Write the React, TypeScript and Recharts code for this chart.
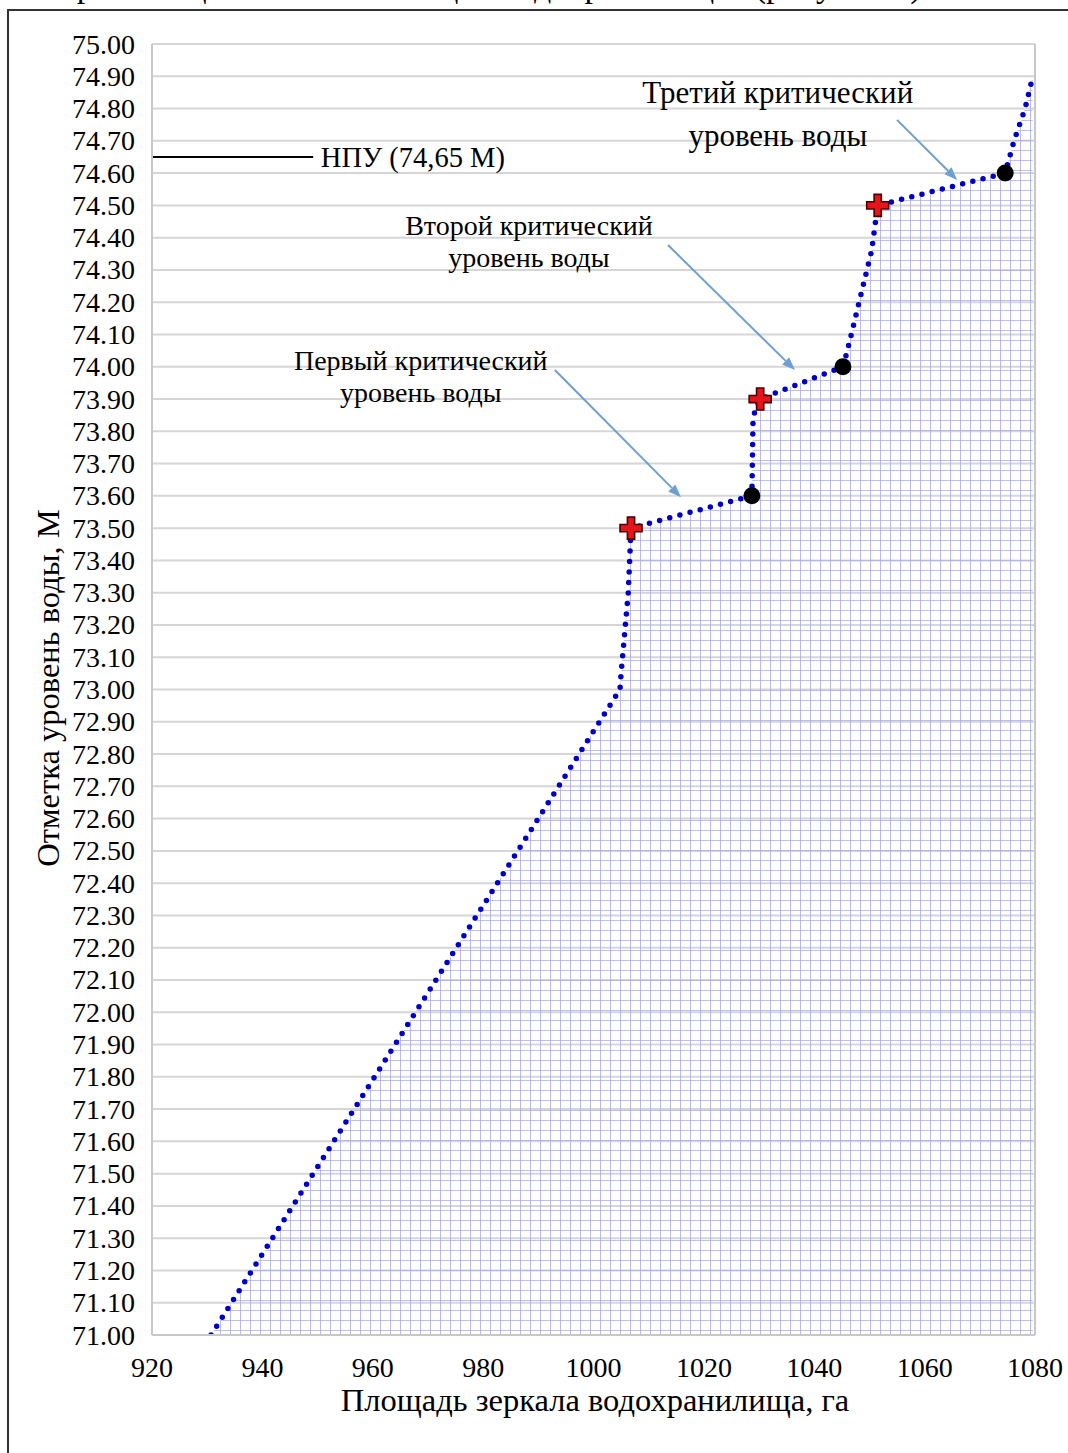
import React from 'react';
import {
  ComposedChart,
  Area,
  Scatter,
  XAxis,
  YAxis,
  CartesianGrid,
  ReferenceLine,
  ReferenceDot,
} from 'recharts';

const FONT = '"Liberation Serif", "Times New Roman", serif';

// curve of water surface area vs level
const curveArea = [930.7, 1004.8, 1005.0, 1006.3, 1006.8, 1028.7, 1028.9, 1029.3, 1030.2, 1045.2, 1046.0, 1050.4, 1051.5, 1074.6, 1076.2, 1078.2, 1079.6];
const curveLevel = [71.0, 73.0, 73.05, 73.3, 73.5, 73.6, 73.83, 73.87, 73.9, 74.0, 74.05, 74.36, 74.5, 74.6, 74.7, 74.8, 74.9];

// red crosses and black dots
const crossArea = [1006.8, 1030.2, 1051.5];
const crossLevel = [73.5, 73.9, 74.5];
const dotArea = [1028.7, 1045.2, 1074.6];
const dotLevel = [73.6, 74.0, 74.6];

const xTicks = [920, 940, 960, 980, 1000, 1020, 1040, 1060, 1080];
const xTopTicks = [936, 952, 968, 984, 1000, 1016, 1032, 1048, 1064];
const yTicks = [
  71.0, 71.1, 71.2, 71.3, 71.4, 71.5, 71.6, 71.7, 71.8, 71.9,
  72.0, 72.1, 72.2, 72.3, 72.4, 72.5, 72.6, 72.7, 72.8, 72.9,
  73.0, 73.1, 73.2, 73.3, 73.4, 73.5, 73.6, 73.7, 73.8, 73.9,
  74.0, 74.1, 74.2, 74.3, 74.4, 74.5, 74.6, 74.7, 74.8, 74.9, 75.0,
];
const yMinorTicks = [
  71.05, 71.15, 71.25, 71.35, 71.45, 71.55, 71.65, 71.75, 71.85, 71.95,
  72.05, 72.15, 72.25, 72.35, 72.45, 72.55, 72.65, 72.75, 72.85, 72.95,
  73.05, 73.15, 73.25, 73.35, 73.45, 73.55, 73.65, 73.75, 73.85, 73.95,
  74.05, 74.15, 74.25, 74.35, 74.45, 74.55, 74.65, 74.75, 74.85, 74.95,
];

// annotations: text lines, anchor point, font size, line gap
const labelTexts = [
  ['Третий критический', 'уровень воды'],
  ['Второй критический', 'уровень воды'],
  ['Первый критический', 'уровень воды'],
];
const labelX = [1033.4, 988.3, 968.7];
const labelY = [74.85, 74.44, 74.02];
const labelSize = [31, 28, 28];
const labelGap = [43, 32, 32];

// arrows: start -> end
const arrowFrom = [
  { x: 1055.0, y: 74.765 },
  { x: 1013.5, y: 74.377 },
  { x: 993.0, y: 73.99 },
];
const arrowTo = [
  { x: 1065.9, y: 74.579 },
  { x: 1036.5, y: 73.99 },
  { x: 1015.85, y: 73.596 },
];

const npuLevel = 74.65;
const npuLineEnd = 949.2;
const npuText = 'НПУ (74,65 М)';

const curveData = curveArea.map((x, i) => ({ x, y: curveLevel[i] }));
const crossData = crossArea.map((x, i) => ({ x, y: crossLevel[i] }));
const dotData = dotArea.map((x, i) => ({ x, y: dotLevel[i] }));

const Cross = (props: any) => {
  const { cx, cy } = props;
  const a = 11;
  const t = 3.6;
  const d = `M${cx - t},${cy - a} H${cx + t} V${cy - t} H${cx + a} V${cy + t} H${cx + t} V${cy + a} H${cx - t} V${cy + t} H${cx - a} V${cy - t} H${cx - t} Z`;
  return <path d={d} fill="#e8141c" stroke="#4a0000" strokeWidth={1.6} />;
};

const BlackDot = (props: any) => {
  const { cx, cy } = props;
  return <circle cx={cx} cy={cy} r={8.5} fill="#000" />;
};

const Arrow = (props: any) => {
  const { x1, y1, x2, y2 } = props;
  const ang = Math.atan2(y2 - y1, x2 - x1);
  const len = 13;
  const w = 5;
  const bx = x2 - len * Math.cos(ang);
  const by = y2 - len * Math.sin(ang);
  const px = -Math.sin(ang) * w;
  const py = Math.cos(ang) * w;
  return (
    <g>
      <line x1={x1} y1={y1} x2={bx} y2={by} stroke="#6e9fd0" strokeWidth={2} />
      <polygon points={`${x2},${y2} ${bx + px},${by + py} ${bx - px},${by - py}`} fill="#6e9fd0" />
    </g>
  );
};

const makeLabel = (i: number) => (props: any) => {
  const { cx, cy } = props;
  return (
    <text x={cx} y={cy} textAnchor="middle" fontFamily={FONT} fontSize={labelSize[i]} fill="#000">
      {labelTexts[i].map((t, k) => (
        <tspan key={k} x={cx} dy={k === 0 ? '0.35em' : labelGap[i]}>
          {t}
        </tspan>
      ))}
    </text>
  );
};

const NpuText = (props: any) => {
  const { cx, cy } = props;
  return (
    <text x={cx} y={cy} dy="0.35em" fontFamily={FONT} fontSize={28.5} fill="#000">
      {npuText}
    </text>
  );
};

const XTick = (props: any) => {
  const { x, y, payload } = props;
  return (
    <text x={x} y={y} dy={20} textAnchor="middle" fontFamily={FONT} fontSize={28} fill="#000">
      {payload.value}
    </text>
  );
};

const YTick = (props: any) => {
  const { x, y, payload } = props;
  return (
    <text x={x} y={y} dy={9.5} textAnchor="end" fontFamily={FONT} fontSize={28} fill="#000">
      {Number(payload.value).toFixed(2)}
    </text>
  );
};

const Empty = () => <g />;

export default function App() {
  return (
    <div style={{ position: 'absolute', left: 0, top: 0, width: 1068, height: 1453, overflow: 'hidden', background: '#fff', fontFamily: FONT }}>
      <div style={{ position: 'absolute', right: 138, top: -31, fontSize: 34, lineHeight: 1, whiteSpace: 'nowrap', color: '#000' }}>
        ранилище и в вышележащих водохранилищах (рисунок 4).
      </div>
      <div style={{ position: 'absolute', left: 7, top: 9, width: 1100, height: 1500, borderLeft: '2px solid #333', borderTop: '2px solid #333' }} />
      <div style={{ position: 'absolute', left: 0, top: 0 }}>
        <ComposedChart width={1068} height={1453} margin={{ top: 44, right: 33, bottom: 0, left: 0 }} style={{ fontFamily: FONT }}>
          <defs>
            <pattern id="cells" width="10" height="10" patternUnits="userSpaceOnUse">
              <path d="M10 0 L0 0 0 10" fill="none" stroke="#a9a9ee" strokeWidth={1.6} />
            </pattern>
          </defs>
          <CartesianGrid vertical={false} stroke="#d6d6d6" strokeWidth={2} />
          <XAxis
            dataKey="x"
            type="number"
            domain={[920, 1080]}
            ticks={xTicks}
            height={118}
            tickSize={0}
            tickMargin={22}
            tickLine={false}
            axisLine={{ stroke: '#c8c8c8', strokeWidth: 2 }}
            tick={XTick}
            allowDataOverflow
          />
          <XAxis
            xAxisId="top"
            orientation="top"
            type="number"
            domain={[920, 1080]}
            ticks={xTopTicks}
            height={0}
            mirror
            tickSize={14}
            tickLine={{ stroke: '#c8c8c8', strokeWidth: 1.5 }}
            axisLine={{ stroke: '#c8c8c8', strokeWidth: 2 }}
            tick={Empty}
          />
          <YAxis
            type="number"
            domain={[71, 75]}
            ticks={yTicks}
            width={152}
            tickSize={0}
            tickMargin={17}
            tickLine={false}
            interval={0}
            axisLine={{ stroke: '#c8c8c8', strokeWidth: 2 }}
            tick={YTick}
            allowDataOverflow
          />
          <YAxis
            yAxisId="minor"
            type="number"
            domain={[71, 75]}
            ticks={yMinorTicks}
            width={0}
            mirror
            tickSize={7}
            interval={0}
            axisLine={false}
            tickLine={{ stroke: '#c8c8c8', strokeWidth: 1.5 }}
            tick={Empty}
          />
          <ReferenceLine x={1080} stroke="#c8c8c8" strokeWidth={2} />
          <Area
            data={curveData}
            dataKey="y"
            type="linear"
            fill="url(#cells)"
            fillOpacity={1}
            stroke="#0000c4"
            strokeWidth={5.5}
            strokeDasharray="0 10.5"
            strokeLinecap="round"
            isAnimationActive={false}
          />
          <ReferenceLine
            segment={[{ x: 920, y: npuLevel }, { x: npuLineEnd, y: npuLevel }]}
            stroke="#000"
            strokeWidth={2}
          />
          <ReferenceDot x={npuLineEnd + 1.4} y={npuLevel} r={0} shape={NpuText} />
          {arrowFrom.map((p, i) => (
            <ReferenceLine key={`a${i}`} segment={[p, arrowTo[i]]} shape={Arrow} />
          ))}
          {labelTexts.map((_, i) => (
            <ReferenceDot key={`l${i}`} x={labelX[i]} y={labelY[i]} r={0} shape={makeLabel(i)} />
          ))}
          <Scatter data={dotData} dataKey="y" shape={BlackDot} isAnimationActive={false} />
          <Scatter data={crossData} dataKey="y" shape={Cross} isAnimationActive={false} />
        </ComposedChart>
      </div>
      <div style={{ position: 'absolute', left: 595, top: 1384, transform: 'translateX(-50%)', fontSize: 32.5, lineHeight: 1, whiteSpace: 'nowrap', color: '#000' }}>
        Площадь зеркала водохранилища, га
      </div>
      <div style={{ position: 'absolute', left: 48, top: 688, transform: 'translate(-50%, -50%) rotate(-90deg)', fontSize: 32.5, lineHeight: 1, whiteSpace: 'nowrap', color: '#000' }}>
        Отметка уровень воды, М
      </div>
    </div>
  );
}
